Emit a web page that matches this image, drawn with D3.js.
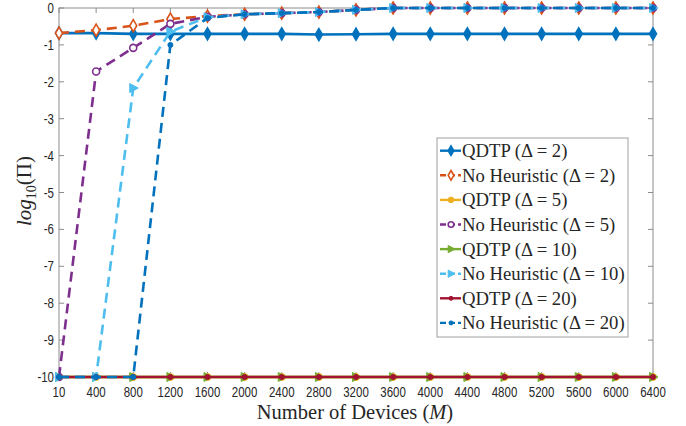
<!DOCTYPE html>
<html>
<head>
<meta charset="utf-8">
<script src="https://cdn.jsdelivr.net/npm/d3@7"></script>
<style>
  html, body { margin: 0; padding: 0; background: #fff; }
  svg { display: block; }
  .tick-label { font-family: "Liberation Sans", Arial, sans-serif; font-size: 14px; fill: #262626; }
  .serif { font-family: "Liberation Serif", "DejaVu Serif", serif; fill: #262626; }
</style>
</head>
<body>
<svg id="chart" width="686" height="426"></svg>
<script>
// Number of devices M (categorical, evenly spaced)
const deviceCounts = ["10","400","800","1200","1600","2000","2400","2800","3200","3600","4000","4400","4800","5200","5600","6000","6400"];
const yTickValues = [0,-1,-2,-3,-4,-5,-6,-7,-8,-9,-10];

// log10(Π) per series
const qdtpD2  = [-0.68,-0.68,-0.70,-0.70,-0.70,-0.70,-0.70,-0.72,-0.71,-0.70,-0.70,-0.70,-0.70,-0.70,-0.70,-0.70,-0.70];
const noHeurD2 = [-0.68,-0.60,-0.48,-0.30,-0.22,-0.17,-0.14,-0.11,-0.05,0,0,0,0,0,0,0,0];
const qdtpD5  = [-10,-10,-10,-10,-10,-10,-10,-10,-10,-10,-10,-10,-10,-10,-10,-10,-10];
const noHeurD5 = [-10,-1.72,-1.08,-0.43,-0.24,-0.17,-0.14,-0.11,-0.05,0,0,0,0,0,0,0,0];
const qdtpD10 = [-10,-10,-10,-10,-10,-10,-10,-10,-10,-10,-10,-10,-10,-10,-10,-10,-10];
const noHeurD10 = [-10,-10,-2.17,-0.64,-0.25,-0.17,-0.14,-0.11,-0.05,0,0,0,0,0,0,0,0];
const qdtpD20 = [-10,-10,-10,-10,-10,-10,-10,-10,-10,-10,-10,-10,-10,-10,-10,-10,-10];
const noHeurD20 = [-10,-10,-10,-1.00,-0.27,-0.17,-0.14,-0.11,-0.05,0,0,0,0,0,0,0,0];

const seriesNames = ["QDTP", "No Heuristic", "QDTP", "No Heuristic", "QDTP", "No Heuristic", "QDTP", "No Heuristic"];
const seriesDeltas = ["2","2","5","5","10","10","20","20"];
const seriesColors = ["#0072BD","#D95319","#EDB120","#7E2F8E","#77AC30","#4DBEEE","#A2142F","#0072BD"];
const seriesDashed = [false,true,false,true,false,true,false,true];
const seriesMarkers = ["diamond","diamondOpen","dot","circleOpen","triangle","triangle","smallDot","smallDot"];
const seriesValues = [qdtpD2, noHeurD2, qdtpD5, noHeurD5, qdtpD10, noHeurD10, qdtpD20, noHeurD20];

const svg = d3.select("#chart");
const plotL = 59, plotR = 653, plotT = 8, plotB = 377;

const x = d3.scalePoint().domain(deviceCounts).range([plotL, plotR]);
const y = d3.scaleLinear().domain([-10, 0]).range([plotB, plotT]);

const axisColor = "#8c8c8c";

// Box
svg.append("rect").attr("x", plotL).attr("y", plotT)
  .attr("width", plotR - plotL).attr("height", plotB - plotT)
  .attr("fill", "none").attr("stroke", axisColor).attr("stroke-width", 1);

// Ticks: inward on all four sides
const tickLen = 5;
const gT = svg.append("g").attr("stroke", axisColor).attr("stroke-width", 1);
deviceCounts.forEach(d => {
  gT.append("line").attr("x1", x(d)).attr("x2", x(d)).attr("y1", plotB).attr("y2", plotB - tickLen);
  gT.append("line").attr("x1", x(d)).attr("x2", x(d)).attr("y1", plotT).attr("y2", plotT + tickLen);
});
yTickValues.forEach(v => {
  gT.append("line").attr("x1", plotL).attr("x2", plotL + tickLen).attr("y1", y(v)).attr("y2", y(v));
  gT.append("line").attr("x1", plotR).attr("x2", plotR - tickLen).attr("y1", y(v)).attr("y2", y(v));
});

// Tick labels (slightly condensed)
const condense = 0.82;
svg.append("g").selectAll("text").data(deviceCounts).join("text")
  .attr("class", "tick-label")
  .attr("transform", d => `translate(${x(d)},397) scale(${condense},1)`)
  .attr("text-anchor", "middle").text(d => d);
svg.append("g").selectAll("text").data(yTickValues).join("text")
  .attr("class", "tick-label")
  .attr("transform", v => `translate(${plotL - 5},${y(v) + 5}) scale(${condense},1)`)
  .attr("text-anchor", "end").text(v => v === 0 ? "0" : "-" + Math.abs(v));

// Axis titles
const xt = svg.append("text").attr("class", "serif").attr("x", 355).attr("y", 419)
  .attr("text-anchor", "middle").attr("font-size", 20.5);
xt.append("tspan").text("Number of Devices (");
xt.append("tspan").attr("font-style", "italic").text("M");
xt.append("tspan").text(")");

const yt = svg.append("text").attr("class", "serif")
  .attr("transform", "translate(31,191) rotate(-90)")
  .attr("text-anchor", "middle").attr("font-size", 21);
yt.append("tspan").attr("font-style", "italic").text("log");
yt.append("tspan").attr("font-size", 14).attr("dy", 5).text("10");
yt.append("tspan").attr("dy", -5).text("(Π)");

// Marker drawing
function drawMarker(g, type, color, cx, cy, k = 1) {
  if (type === "diamond" || type === "diamondOpen") {
    g.append("path").attr("d", `M${cx},${cy-6*k}L${cx+3.5*k},${cy}L${cx},${cy+6*k}L${cx-3.5*k},${cy}Z`)
      .attr("fill", type === "diamond" ? color : "#fff").attr("stroke", color).attr("stroke-width", 1.6);
  } else if (type === "dot") {
    g.append("circle").attr("cx", cx).attr("cy", cy).attr("r", 3.5 * k).attr("fill", color).attr("stroke", color);
  } else if (type === "circleOpen") {
    g.append("circle").attr("cx", cx).attr("cy", cy).attr("r", 3.5 * k).attr("fill", "#fff").attr("stroke", color).attr("stroke-width", 1.6);
  } else if (type === "triangle") {
    g.append("path").attr("d", `M${cx+5*k},${cy}L${cx-3.5*k},${cy-4.5*k}L${cx-3.5*k},${cy+4.5*k}Z`)
      .attr("fill", color).attr("stroke", color).attr("stroke-width", 1);
  } else if (type === "smallDot") {
    g.append("circle").attr("cx", cx).attr("cy", cy).attr("r", 2.5 * k).attr("fill", color).attr("stroke", color);
  }
}

const line = d3.line().x((d, i) => x(deviceCounts[i])).y(d => y(d));
const plot = svg.append("g");
seriesValues.forEach((vals, s) => {
  const g = plot.append("g");
  g.append("path").attr("d", line(vals)).attr("fill", "none")
    .attr("stroke", seriesColors[s]).attr("stroke-width", 2.6)
    .attr("stroke-dasharray", seriesDashed[s] ? "10,6" : null);
  vals.forEach((v, i) => drawMarker(g, seriesMarkers[s], seriesColors[s], x(deviceCounts[i]), y(v)));
});

// Legend
const lgX = 437, lgY = 138, lgW = 191, lgH = 199, rowH = 24.6;
svg.append("rect").attr("x", lgX).attr("y", lgY).attr("width", lgW).attr("height", lgH)
  .attr("fill", "#fff").attr("stroke", "#a0a0a0").attr("stroke-width", 1);
seriesNames.forEach((name, s) => {
  const cy = lgY + 12.7 + s * rowH;
  const g = svg.append("g");
  g.append("line").attr("x1", lgX + 3).attr("x2", lgX + 24).attr("y1", cy).attr("y2", cy)
    .attr("stroke", seriesColors[s]).attr("stroke-width", 2.4)
    .attr("stroke-dasharray", seriesDashed[s] ? "6,3" : null);
  drawMarker(g, seriesMarkers[s], seriesColors[s], lgX + 14, cy, 0.8);
  const t = g.append("text").attr("class", "serif").attr("x", lgX + 25).attr("y", cy + 6.5)
    .attr("font-size", 18.7);
  t.text(`${name} (Δ = ${seriesDeltas[s]})`);
});
</script>
</body>
</html>
